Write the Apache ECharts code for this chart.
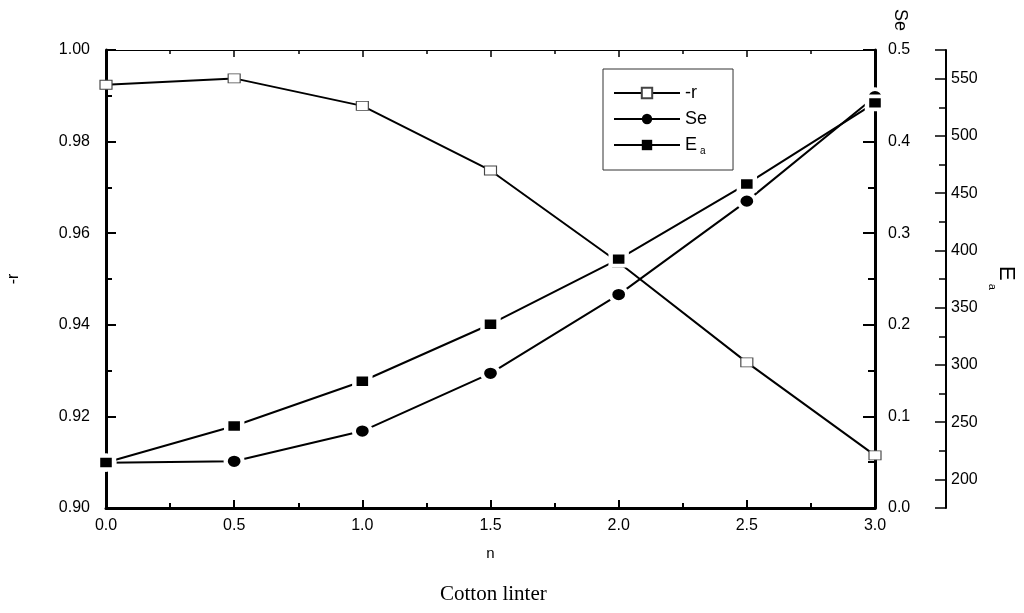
<!DOCTYPE html>
<html><head><meta charset="utf-8">
<script src="https://cdn.jsdelivr.net/npm/echarts@6/dist/echarts.min.js"></script>
<style>html,body{margin:0;padding:0;background:#fff}#c{width:1024px;height:613px}</style>
</head><body><div id="c"></div>
<script>
// ---- data ----
const nValues  = [0, 0.5, 1.0, 1.5, 2.0, 2.5, 3.0];
const rValues  = [0.9924, 0.9938, 0.9878, 0.9737, 0.9536, 0.9318, 0.9115];
const seValues = [0.0495, 0.051, 0.084, 0.147, 0.233, 0.335, 0.449];
const eaValues = [214.8, 246.6, 285.7, 335.5, 392.4, 458, 528.8];
const seriesNames = ['-r', 'Se', 'Ea'];
const titleText = 'Cotton linter';
const xName = 'n', rName = '-r', seName = 'Se';

const FONT = "'Liberation Sans', Arial, sans-serif";
const BLACK = '#000';
const pairs = (xs, ys) => xs.map((x, i) => [x, ys[i]]);

const chart = echarts.init(document.getElementById('c'), null, {renderer: 'canvas'});

const baseLabel = {color: BLACK, fontFamily: FONT, fontSize: 16};

chart.setOption({
  animation: false,
  backgroundColor: '#fff',
  title: {
    text: titleText, left: 435, top: 579,
    textStyle: {fontFamily: "'Liberation Serif', 'Times New Roman', serif", fontSize: 21, fontWeight: 'normal', color: BLACK}
  },
  grid: {left: 106, right: 149, top: 50, bottom: 105, containLabel: false, outerBoundsMode: 'none'},
  legend: {
    orient: 'vertical', left: 603, top: 69,
    padding: [15, 26, 14, 10], itemGap: 8, itemWidth: 66, itemHeight: 13,
    borderColor: '#333', borderWidth: 1, backgroundColor: '#fff',
    data: [
      {name: '-r'},
      {name: 'Se', itemStyle: {borderWidth: 0}},
      {name: 'Ea', itemStyle: {borderWidth: 0}}
    ],
    formatter: name => name === 'Ea' ? '{m|E}{s|a}' : name,
    textStyle: {color: BLACK, fontFamily: FONT, fontSize: 18,
      rich: {m: {fontFamily: FONT, fontSize: 18, color: BLACK}, s: {fontFamily: FONT, fontSize: 10, color: BLACK, padding: [12, 0, 0, 3]}}}
  },
  xAxis: [
    {
      type: 'value', position: 'bottom', min: 0, max: 3, interval: 0.5,
      name: xName, nameLocation: 'middle', nameGap: 38,
      nameTextStyle: {color: BLACK, fontFamily: FONT, fontSize: 15},
      axisLine: {onZero: false, lineStyle: {color: BLACK, width: 3}},
      axisTick: {inside: true, length: 8, lineStyle: {color: BLACK, width: 2}},
      minorTick: {show: true, splitNumber: 2, length: 5, lineStyle: {color: BLACK, width: 2}},
      axisLabel: Object.assign({margin: 10, formatter: v => v.toFixed(1)}, baseLabel),
      splitLine: {show: false}, minorSplitLine: {show: false}
    },
    {
      type: 'value', position: 'top', min: 0, max: 3, interval: 0.5,
      axisLine: {onZero: false, lineStyle: {color: BLACK, width: 1}},
      axisTick: {inside: true, length: 7, lineStyle: {color: BLACK, width: 1.5}},
      minorTick: {show: true, splitNumber: 2, length: 4, lineStyle: {color: BLACK, width: 1.5}},
      axisLabel: {show: false}, splitLine: {show: false}
    }
  ],
  yAxis: [
    {
      type: 'value', position: 'left', min: 0.9, max: 1.0, interval: 0.02,
      name: rName, nameLocation: 'middle', nameGap: 84, nameRotate: 90,
      nameTextStyle: {color: BLACK, fontFamily: FONT, fontSize: 16},
      axisLine: {onZero: false, lineStyle: {color: BLACK, width: 3}},
      axisTick: {inside: true, length: 10, lineStyle: {color: BLACK, width: 2}},
      minorTick: {show: true, splitNumber: 2, length: 6, lineStyle: {color: BLACK, width: 2}},
      axisLabel: Object.assign({margin: 16, formatter: v => v.toFixed(2)}, baseLabel),
      splitLine: {show: false}, minorSplitLine: {show: false}
    },
    {
      type: 'value', position: 'right', offset: 0, min: 0, max: 0.5, interval: 0.1,
      axisLine: {onZero: false, lineStyle: {color: BLACK, width: 3}},
      axisTick: {inside: true, length: 12, lineStyle: {color: BLACK, width: 2}},
      minorTick: {show: true, splitNumber: 2, length: 7, lineStyle: {color: BLACK, width: 2}},
      axisLabel: Object.assign({margin: 13, formatter: v => v.toFixed(1)}, baseLabel),
      splitLine: {show: false}
    },
    {
      type: 'value', position: 'right', offset: 71, min: 175, max: 575, splitNumber: 8,
      axisLine: {onZero: false, lineStyle: {color: BLACK, width: 2}},
      axisTick: {inside: true, length: 11, lineStyle: {color: BLACK, width: 1.5}},
      axisLabel: Object.assign({margin: 5, formatter: v => (Math.abs(v % 50) < 1e-6 ? String(v) : '')}, baseLabel),
      splitLine: {show: false}
    },
    {
      type: 'value', position: 'right', offset: 71, min: 175, max: 575, interval: 25,
      axisLine: {show: false, onZero: false},
      axisTick: {inside: true, length: 7, lineStyle: {color: BLACK, width: 1.5}},
      axisLabel: {show: false}, splitLine: {show: false}
    }
  ],
  graphic: [
    {type: 'text', x: 909, y: 9, rotation: -Math.PI / 2,
      style: {text: seName, fontFamily: FONT, fontSize: 18, fill: BLACK, align: 'left', verticalAlign: 'top'}},
    {type: 'text', x: 982, y: 266, rotation: -Math.PI / 2,
      style: {text: '{m|E}{s|a}', fontFamily: FONT, fill: BLACK, align: 'left', verticalAlign: 'bottom',
        rich: {m: {fontFamily: FONT, fontSize: 22, fill: BLACK, padding: [0, 0, 13, 0]}, s: {fontFamily: FONT, fontSize: 11, fill: BLACK, padding: [14, 0, 0, 3]}}}}
  ],
  series: [
    {
      name: '-r', type: 'line', xAxisIndex: 0, yAxisIndex: 0, data: pairs(nValues, rValues),
      symbol: 'rect', symbolSize: [12, 9],
      itemStyle: {color: '#fff', borderColor: '#444', borderWidth: 1},
      lineStyle: {color: BLACK, width: 2}, z: 3
    },
    {
      name: 'Se', type: 'line', xAxisIndex: 0, yAxisIndex: 1, data: pairs(nValues, seValues),
      symbol: 'circle', symbolSize: [17, 15],
      itemStyle: {color: BLACK, borderColor: '#fff', borderWidth: 4},
      lineStyle: {color: BLACK, width: 2}, z: 4
    },
    {
      name: 'Ea', type: 'line', xAxisIndex: 0, yAxisIndex: 2, data: pairs(nValues, eaValues),
      symbol: 'rect', symbolSize: [16, 13],
      itemStyle: {color: BLACK, borderColor: '#fff', borderWidth: 4},
      lineStyle: {color: BLACK, width: 2}, z: 5
    }
  ]
});
</script>
</body></html>
